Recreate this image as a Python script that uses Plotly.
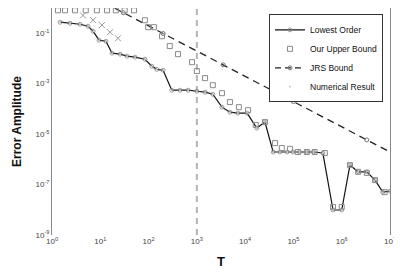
import plotly.graph_objects as go

# ---- data ----
lowest_T = [1.47, 2.36, 3.8, 5.56, 7.1, 9.4, 13.1, 17.5, 25.7, 35.7, 52.5, 84, 117, 148, 200,
            302, 447, 661, 1000, 1480, 2140, 3310, 4840, 7080, 11000, 17400, 25700,
            38000, 52500, 74100, 98000, 135000, 190000, 263000, 407000,
            661000, 1.0e6, 1.48e6, 2.19e6, 3.31e6, 4.9e6, 7.08e6, 1.0e7]
lowest_Y = [0.273, 0.249, 0.227, 0.19, 0.12, 0.053, 0.048, 0.0162, 0.0148, 0.0123, 0.0112, 0.0093,
            0.0049, 0.0037, 0.0034, 5.5e-4, 5.5e-4, 5.5e-4, 5.0e-4, 4.6e-4, 3.8e-4, 1.17e-4,
            7.4e-5, 6.8e-5, 6.8e-5, 1.74e-5, 3.0e-5, 1.95e-6, 1.95e-6, 1.95e-6, 1.95e-6,
            1.95e-6, 1.95e-6, 1.95e-6, 1.78e-6, 9.8e-9, 9.8e-9, 5.9e-7, 3.2e-7, 3.2e-7,
            1.5e-7, 5.0e-8, 5.5e-8]

upper_T = [1.33, 1.86, 3.0, 5.0, 8.5, 13.8, 21, 32, 50, 84, 98, 129, 190, 275, 407, 794, 1000,
           1480, 2140, 3310, 4840, 7410, 11500, 16600, 25700, 41700, 57500, 85100, 123000,
           190000, 275000, 447000, 661000, 1.0e6, 1.48e6, 2.19e6, 3.31e6, 4.9e6, 7.76e6]
upper_Y = [0.81, 0.81, 0.81, 0.81, 0.81, 0.81, 0.81, 0.81, 0.81, 0.327, 0.174, 0.174, 0.076,
           0.031, 0.0148, 0.0071, 0.00316, 0.00166, 8.7e-4, 4.2e-4, 1.86e-4, 1.17e-4, 8.9e-5,
           2.3e-5, 3.0e-5, 4.4e-6, 2.8e-6, 2.6e-6, 1.95e-6, 1.95e-6, 1.95e-6, 1.78e-6,
           1.29e-8, 1.29e-8, 5.9e-7, 3.2e-7, 2.9e-7, 1.5e-7, 5.0e-8]

cross_T = [4.4, 7.1, 10.8, 15.9, 23.2]
cross_Y = [0.51, 0.33, 0.21, 0.11, 0.063]

jrs_T = [20, 30, 50, 100, 200, 500, 1000, 2000, 3500, 5000, 1e4, 2e4, 5e4, 1e5, 2e5, 5e5,
         1e6, 2e6, 3.3e6, 5e6, 1e7]
jrs_Y = [0.98, 0.65, 0.39, 0.195, 0.0975, 0.039, 0.0195, 0.00975, 0.0056, 0.0039, 0.00195,
         9.75e-4, 3.9e-4, 1.95e-4, 9.75e-5, 3.9e-5, 1.95e-5, 9.75e-6, 5.9e-6, 3.9e-6, 1.95e-6]
jrs_mark_T = [30, 200, 3500, 1e5, 3.3e6]
jrs_mark_Y = [0.65, 0.0975, 0.0056, 1.95e-4, 5.9e-6]

numerical_T = lowest_T
numerical_Y = lowest_Y

t_star = 1000
y_span = [1e-9, 1.0]

y_tickvals = [1e-9, 1e-7, 1e-5, 1e-3, 1e-1]
y_ticktext = ["10<sup>-9</sup>", "10<sup>-7</sup>", "10<sup>-5</sup>", "10<sup>-3</sup>", "10<sup>-1</sup>"]
x_tickvals = [1, 10, 100, 1000, 1e4, 1e5, 1e6, 1e7]
x_ticktext = ["10<sup>%d</sup>" % i for i in range(8)]

FONT = "Liberation Sans, Arial, sans-serif"

fig = go.Figure()

# vertical dashed reference line at T = 10^3
fig.add_trace(go.Scatter(x=[t_star, t_star], y=y_span, mode="lines",
                         line=dict(color="#b4b4b4", width=2, dash="6px,5px"),
                         showlegend=False, hoverinfo="skip"))

# JRS bound line (dashed)
fig.add_trace(go.Scatter(x=jrs_T, y=jrs_Y, mode="lines",
                         line=dict(color="#222222", width=1.3, dash="7px,5px"),
                         showlegend=False))
fig.add_trace(go.Scatter(x=jrs_mark_T, y=jrs_mark_Y, mode="markers",
                         marker=dict(symbol="circle-open", size=4, color="#777777", line=dict(width=1)),
                         showlegend=False))

# crosses
fig.add_trace(go.Scatter(x=cross_T, y=cross_Y, mode="markers",
                         marker=dict(symbol="x-thin-open", size=6, color="#999999",
                                     line=dict(width=1, color="#999999")),
                         showlegend=False))

# Lowest order
fig.add_trace(go.Scatter(x=lowest_T, y=lowest_Y, mode="lines+markers", name="Lowest Order",
                         line=dict(color="#111111", width=1.2),
                         marker=dict(symbol="circle-open", size=4, color="#888888", line=dict(width=0.8))))

# Our upper bound
fig.add_trace(go.Scatter(x=upper_T, y=upper_Y, mode="markers", name="Our Upper Bound",
                         marker=dict(symbol="square-open", size=5, color="#8a8a8a", line=dict(width=1))))

# JRS legend entry
fig.add_trace(go.Scatter(x=[None], y=[None], mode="lines+markers", name="JRS Bound",
                         line=dict(color="#222222", width=1.2, dash="6px,4px"),
                         marker=dict(symbol="circle-open", size=4, color="#777777")))

# Numerical result
fig.add_trace(go.Scatter(x=numerical_T, y=numerical_Y, mode="markers", name="Numerical Result",
                         marker=dict(symbol="circle", size=2, color="#c8c8c8")))

# the page adds an 8px body margin, so the figure is drawn 8px smaller
fig.update_layout(
    width=394, height=266,
    margin=dict(l=44, r=12, t=0, b=39, autoexpand=False),
    paper_bgcolor="white", plot_bgcolor="white",
    font=dict(family=FONT, size=8, color="#333333"),
    showlegend=True,
    legend=dict(x=0.642, y=0.972, xanchor="left", yanchor="top",
                bordercolor="#333333", borderwidth=1, bgcolor="white",
                font=dict(family=FONT, size=8.5, color="#111111"),
                itemwidth=30, tracegroupgap=0),
    annotations=[
        dict(text="<b>Error Amplitude</b>", xref="paper", yref="paper",
             x=-0.105, y=0.5, textangle=-90, showarrow=False, xanchor="center", yanchor="middle",
             font=dict(family=FONT, size=12, color="#111111")),
        dict(text="<b>T</b>", xref="paper", yref="paper",
             x=0.5, y=-0.118, showarrow=False, xanchor="center", yanchor="middle",
             font=dict(family=FONT, size=13, color="#111111")),
    ],
)
fig.update_xaxes(type="log", range=[0, 7], tickvals=x_tickvals, ticktext=x_ticktext,
                 showgrid=False, zeroline=False, showline=False, ticks="", automargin=False,
                 tickfont=dict(family=FONT, size=8, color="#444444"))
fig.update_yaxes(type="log", range=[-9, 0], tickvals=y_tickvals, ticktext=y_ticktext,
                 showgrid=False, zeroline=False, showline=True, mirror=True, automargin=False,
                 linecolor="#888888", linewidth=1, ticks="",
                 tickfont=dict(family=FONT, size=8, color="#444444"))

fig.write_html("out.html")
